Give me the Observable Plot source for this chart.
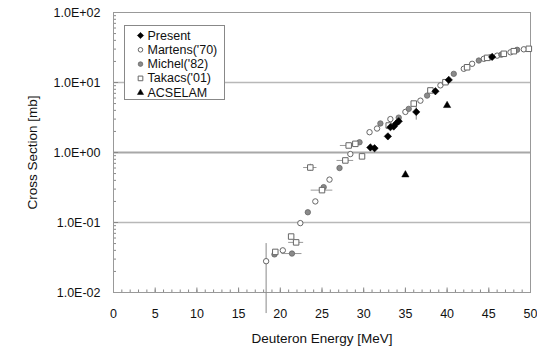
<!DOCTYPE html>
<html><head><meta charset="utf-8">
<script src="https://cdn.jsdelivr.net/npm/d3@7"></script>
<script src="https://cdn.jsdelivr.net/npm/@observablehq/plot@0.6"></script>
<style>body{margin:0;background:#fff}</style>
</head><body><div id="chart"></div>
<script>
// Data (Deuteron energy [MeV], cross section [mb])
const presentE  = [30.8, 31.3, 32.9, 33.2, 33.6, 33.9, 34.2, 36.3, 38.6, 40.2, 45.4];
const presentXS = [1.18, 1.15, 1.7, 2.3, 2.35, 2.6, 2.8, 3.8, 7.5, 10.9, 23.2];
const martensE  = [18.3, 20.3, 22.4, 24.2, 25.9, 28.4, 30.7, 31.6, 33.2, 35.0, 36.8, 39.2, 42.0, 43.0, 44.4, 46.0, 47.6, 49.2];
const martensXS = [0.028, 0.040, 0.098, 0.20, 0.41, 0.95, 1.95, 2.2, 3.0, 3.8, 5.5, 9.1, 15.7, 18.5, 21.8, 24.2, 27.0, 29.8];
const michelE   = [19.3, 21.4, 23.3, 25.2, 27.1, 29.5, 32.0, 34.2, 35.4, 37.6, 40.8, 43.8, 45.2, 46.5, 48.4];
const michelXS  = [0.035, 0.036, 0.14, 0.32, 0.60, 1.4, 2.6, 3.15, 4.2, 6.5, 13.3, 20.6, 23.0, 25.0, 29.3];
const takacsE   = [19.4, 21.3, 21.9, 23.6, 25.0, 27.8, 28.2, 29.0, 29.8, 33.0, 36.0, 38.0, 39.8, 42.4, 44.8, 46.8, 48.0, 49.8];
const takacsXS  = [0.038, 0.063, 0.052, 0.61, 0.29, 0.77, 1.26, 1.33, 0.88, 2.43, 5.0, 7.7, 10.1, 16.5, 22.5, 25.7, 28.0, 30.3];
const acselamE  = [35.0, 40.0];
const acselamXS = [0.48, 4.7];

// error bars
const vErrE  = [18.3, 36.3, 23.6];
const vErrLo = [0.005, 2.9, 0.54];
const vErrHi = [0.05, 4.7, 0.68];
const hErrE  = [21.4, 21.9, 23.6, 25.0, 27.8, 28.2, 29.0];
const hErrXS = [0.036, 0.052, 0.61, 0.29, 0.77, 1.26, 1.33];
const hErrD  = [1.2, 0.9, 0.8, 1.3, 1.0, 1.0, 0.6];

const yTicks = [0.01, 0.1, 1, 10, 100];
const xTicksMajor = [0, 5, 10, 15, 20, 25, 30, 35, 40, 45, 50];
const legendLabels = ["Present", "Martens('70)", "Michel('82)", "Takacs('01)", "ACSELAM"];

const W = 537, H = 350, mL = 113, mR = 7, mT = 12, mB = 58;
const innerW = W - mL - mR, innerH = H - mT - mB;

const rows = (E, XS) => E.map((e, i) => ({e, xs: XS[i]}));
const present = rows(presentE, presentXS);
const martens = rows(martensE, martensXS);
const michel = rows(michelE, michelXS);
const takacs = rows(takacsE, takacsXS);
const acselam = rows(acselamE, acselamXS);
const vErr = vErrE.map((e, i) => ({e, lo: vErrLo[i], hi: vErrHi[i]}));
const hErr = hErrE.map((e, i) => ({xs: hErrXS[i], x1: e - hErrD[i], x2: e + hErrD[i]}));

const minorY = [];
for (const d of [0.01, 0.1, 1, 10]) for (let k = 2; k <= 9; k++) minorY.push(d * k);
const minorX = d3.range(0, 51, 1);

const fmt = d => {
  const ex = Math.round(Math.log10(d));
  return "1.0E" + (ex >= 0 ? "+" : "-") + String(Math.abs(ex)).padStart(2, "0");
};

const styles = {
  Present: {symbol: "diamond2", r: 3.3, fill: "#000", stroke: "#000", strokeWidth: 0.6},
  Martens: {symbol: "circle", r: 2.7, fill: "white", stroke: "#666", strokeWidth: 1},
  Michel:  {symbol: "circle", r: 2.7, fill: "#8a8a8a", stroke: "#666", strokeWidth: 0.8},
  Takacs:  {symbol: "square", r: 3.1, fill: "white", stroke: "#666", strokeWidth: 1},
  ACSELAM: {symbol: "triangle", r: 2.7, fill: "#000", stroke: "#000", strokeWidth: 0.5}
};
const legendKeys = ["Present", "Martens", "Michel", "Takacs", "ACSELAM"];

const legendMarks = [];
legendKeys.forEach((k, i) => {
  const dy = 23 + 14.3 * i;
  legendMarks.push(Plot.dot([0], {frameAnchor: "top-left", dx: 27, dy, ...styles[k], r: styles[k].r * 0.85}));
  legendMarks.push(Plot.text([legendLabels[i]], {frameAnchor: "top-left", dx: 34, dy, textAnchor: "start", lineAnchor: "middle", fontSize: 12.5, fill: "#111"}));
});

const chart = Plot.plot({
  width: W, height: H,
  marginLeft: mL, marginRight: mR, marginTop: mT, marginBottom: mB,
  style: {fontFamily: "'Liberation Sans', Arial, sans-serif", fontSize: "12px", background: "white", color: "#111"},
  x: {domain: [0, 50]},
  y: {type: "log", domain: [0.01, 100]},
  marks: [
    Plot.ruleY([0.1, 10], {stroke: "#b8b8b8", strokeWidth: 1.4}),
    Plot.ruleY([1], {stroke: "#a8a8a8", strokeWidth: 2.2}),
    Plot.tickY(minorY, {y: d => d, insetRight: innerW - 3, stroke: "#888"}),
    Plot.tickY(yTicks, {y: d => d, insetRight: innerW - 5, stroke: "#888"}),
    Plot.tickX(minorX, {x: d => d, insetTop: innerH - 2.5, stroke: "#888"}),
    Plot.tickX(xTicksMajor, {x: d => d, insetTop: innerH - 4.5, stroke: "#888"}),
    Plot.frame({stroke: "#999"}),
    Plot.ruleX(vErr, {x: "e", y1: "lo", y2: "hi", stroke: "#888", strokeWidth: 1}),
    Plot.ruleY(hErr, {y: "xs", x1: "x1", x2: "x2", stroke: "#999", strokeWidth: 1}),
    Plot.dot(martens, {x: "e", y: "xs", ...styles.Martens}),
    Plot.dot(michel, {x: "e", y: "xs", ...styles.Michel}),
    Plot.dot(takacs, {x: "e", y: "xs", ...styles.Takacs}),
    Plot.dot(present, {x: "e", y: "xs", ...styles.Present}),
    Plot.dot(acselam, {x: "e", y: "xs", ...styles.ACSELAM}),
    Plot.frame({insetLeft: 11, insetTop: 13, insetRight: innerW - 111, insetBottom: innerH - 87, fill: "white", stroke: "#888"}),
    ...legendMarks,
    Plot.axisY({ticks: yTicks, tickSize: 0, tickPadding: 13, tickFormat: fmt, fontSize: 12.5, label: null}),
    Plot.axisX({ticks: xTicksMajor, tickSize: 0, tickPadding: 17, tickFormat: d => String(d), fontSize: 12.5, label: null}),
    Plot.text(["Cross Section [mb]"], {frameAnchor: "left", rotate: -90, dx: -81, textAnchor: "middle", lineAnchor: "middle", fontSize: 13.5}),
    Plot.text(["Deuteron Energy [MeV]"], {frameAnchor: "bottom", dy: 46, textAnchor: "middle", lineAnchor: "middle", fontSize: 13.5})
  ]
});
document.getElementById("chart").append(chart);
</script>
</body></html>
